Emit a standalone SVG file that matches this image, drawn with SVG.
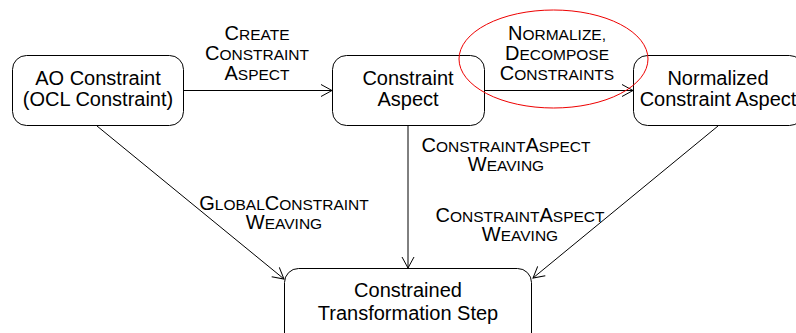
<svg xmlns="http://www.w3.org/2000/svg" width="796" height="333" viewBox="0 0 796 333">
<style>
.box{fill:#fff;stroke:#000;stroke-width:1}
.t{font-family:"Liberation Sans",Arial,sans-serif;font-size:20px;fill:#000;text-anchor:middle}
.l{font-family:"Liberation Sans",Arial,sans-serif;font-size:20px;fill:#000;text-anchor:middle}
.s{font-size:15.5px}
.e{fill:none;stroke:#000;stroke-width:1}
</style>
<defs>
<marker id="arr" markerUnits="userSpaceOnUse" markerWidth="14" markerHeight="14" viewBox="0 0 14 14" refX="12" refY="7" orient="auto">
<path d="M1,1 L12,7 L1,13" fill="none" stroke="#000" stroke-width="1"/>
</marker>
</defs>
<rect width="796" height="333" fill="#fff"/>
<g id="connectors">
<line class="e" x1="184" y1="90.5" x2="332" y2="90.5" marker-end="url(#arr)"/>
<line class="e" x1="485" y1="90.5" x2="633" y2="90.5" marker-end="url(#arr)"/>
<line class="e" x1="97" y1="126" x2="284" y2="279" marker-end="url(#arr)"/>
<line class="e" x1="408" y1="126" x2="408" y2="268" marker-end="url(#arr)"/>
<line class="e" x1="718" y1="126" x2="533" y2="278" marker-end="url(#arr)"/>
<text class="l" x="257" y="40">C<tspan class="s">REATE</tspan></text>
<text class="l" x="257" y="60">C<tspan class="s">ONSTRAINT</tspan></text>
<text class="l" x="257" y="80">A<tspan class="s">SPECT</tspan></text>
<text class="l" x="557" y="40">N<tspan class="s">ORMALIZE,</tspan></text>
<text class="l" x="557" y="60">D<tspan class="s">ECOMPOSE</tspan></text>
<text class="l" x="557" y="80">C<tspan class="s">ONSTRAINTS</tspan></text>
<text class="l" x="506" y="152">C<tspan class="s">ONSTRAINT</tspan>A<tspan class="s">SPECT</tspan></text>
<text class="l" x="506" y="171">W<tspan class="s">EAVING</tspan></text>
<text class="l" x="520" y="222">C<tspan class="s">ONSTRAINT</tspan>A<tspan class="s">SPECT</tspan></text>
<text class="l" x="520" y="241">W<tspan class="s">EAVING</tspan></text>
<text class="l" x="284" y="210">G<tspan class="s">LOBAL</tspan>C<tspan class="s">ONSTRAINT</tspan></text>
<text class="l" x="284" y="229">W<tspan class="s">EAVING</tspan></text>
</g>
<g id="ao">
<rect class="box" x="12.5" y="55.5" width="171" height="70" rx="14"/>
<text class="t" x="98" y="85">AO Constraint</text>
<text class="t" x="98" y="106">(OCL Constraint)</text>
</g>
<g id="aspect">
<rect class="box" x="332.5" y="55.5" width="152" height="70" rx="14"/>
<text class="t" x="408" y="85">Constraint</text>
<text class="t" x="408" y="106">Aspect</text>
</g>
<g id="normalized">
<rect class="box" x="633.5" y="55.5" width="170" height="70" rx="14"/>
<text class="t" x="718" y="85">Normalized</text>
<text class="t" x="718" y="106">Constraint Aspect</text>
</g>
<g id="step">
<rect class="box" x="284.5" y="268.5" width="247" height="80" rx="14"/>
<text class="t" x="408" y="297">Constrained</text>
<text class="t" x="408" y="320">Transformation Step</text>
</g>
<ellipse cx="553.5" cy="59" rx="94.5" ry="49" fill="none" stroke="#e00" stroke-width="1"/>
</svg>
